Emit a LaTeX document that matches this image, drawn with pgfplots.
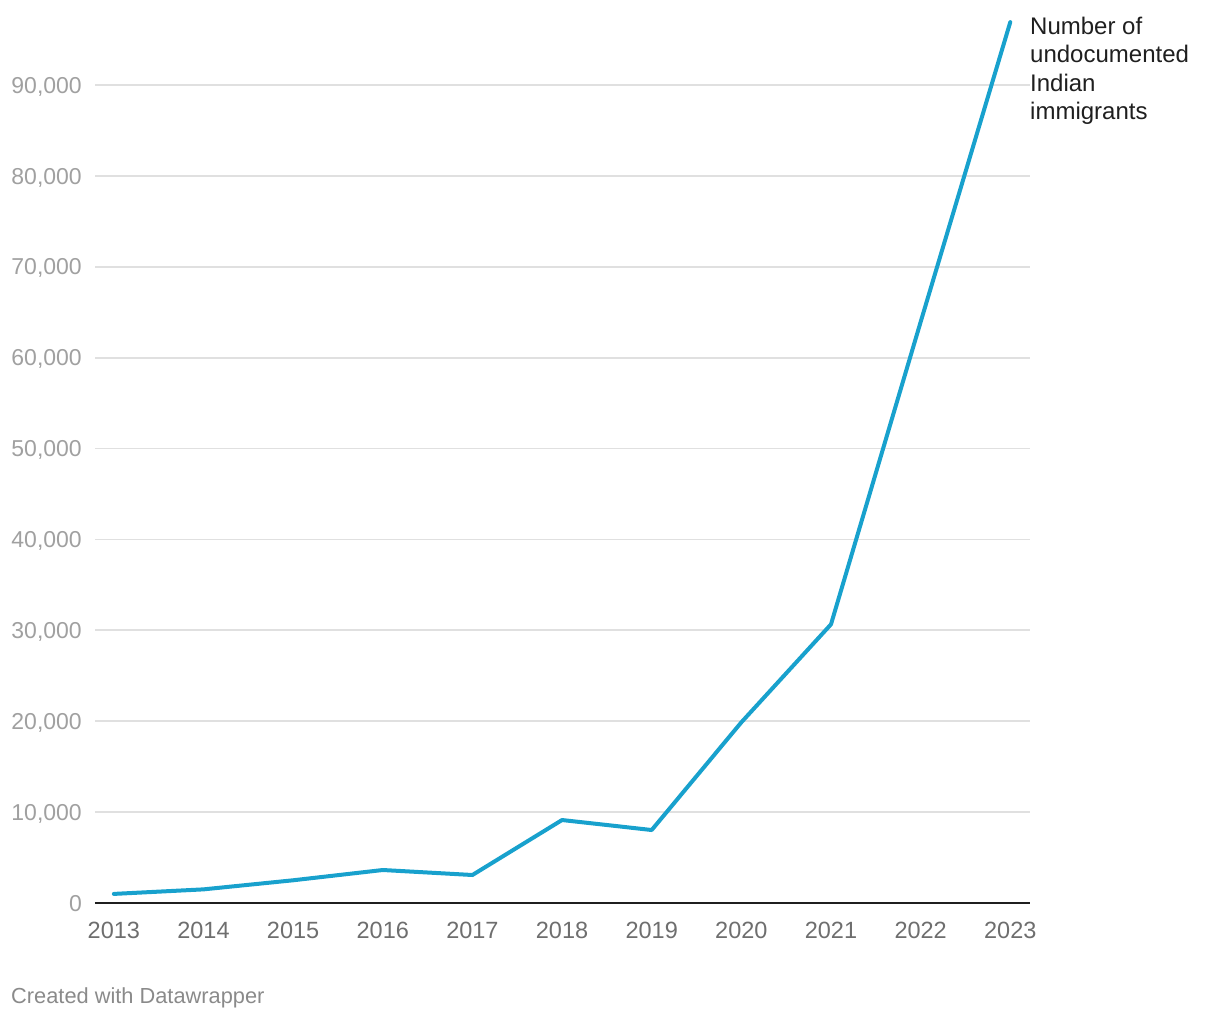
\documentclass[border=0pt]{standalone}
\usepackage{fontspec}
\setmainfont{Liberation Sans}
\usepackage{pgfplots}
\pgfplotsset{compat=1.18}
\definecolor{serie}{HTML}{18A1CD}
\definecolor{gridc}{HTML}{E0E0E0}
\definecolor{ylab}{HTML}{A0A0A0}
\definecolor{xlab}{HTML}{6E6E6E}
\definecolor{foot}{HTML}{8A8A8A}
\begin{document}
\begin{tikzpicture}
\begin{axis}[
  name=ax,
  width=935pt, height=890.7pt, scale only axis,
  xmin=2012.79, xmax=2023.22, ymin=0, ymax=98000,
  axis line style={draw=none},
  major tick length=0pt,
  clip=false,
  scaled ticks=false,
  ytick={0,10000,20000,30000,40000,50000,60000,70000,80000,90000},
  yticklabels={0,{10,000},{20,000},{30,000},{40,000},{50,000},{60,000},{70,000},{80,000},{90,000}},
  xtick={2013,2014,2015,2016,2017,2018,2019,2020,2021,2022,2023},
  xticklabels={2013,2014,2015,2016,2017,2018,2019,2020,2021,2022,2023},
  ymajorgrids,
  grid style={color=gridc, line width=1.7pt},
  yticklabel style={font=\fontsize{23}{28}\selectfont, text=ylab, inner sep=0pt, anchor=base east, xshift=-13pt, yshift=-8.2pt},
  xticklabel style={font=\fontsize{23.5}{28}\selectfont, text=xlab, inner sep=0pt, anchor=north, yshift=-18.5pt},
]
\draw[color=black!88, line width=2.8pt] (axis cs:2012.79,0) -- (axis cs:2023.22,0);
\addplot[color=serie, line width=4pt, line join=round, line cap=round, mark=none] coordinates {
  (2013,1000) (2014,1500) (2015,2500) (2016,3630) (2017,3080) (2018,9130)
  (2019,8030) (2020,19880) (2021,30660) (2022,63930) (2023,96920)
};
\end{axis}
\node[anchor=north west, inner sep=0pt, align=left, font=\fontsize{24}{28.5}\selectfont, text=black!88] at ([yshift=-4.5pt]ax.north east) {Number of\\undocumented\\Indian\\immigrants};
\node[anchor=base west, inner sep=0pt, font=\fontsize{21.8}{25}\selectfont, text=foot] at ([xshift=-84pt, yshift=-100pt]ax.south west) {Created with Datawrapper};
\path[use as bounding box] ([xshift=-95pt,yshift=-117pt]ax.south west) rectangle ([xshift=190pt,yshift=12.3pt]ax.north east);
\end{tikzpicture}
\end{document}
